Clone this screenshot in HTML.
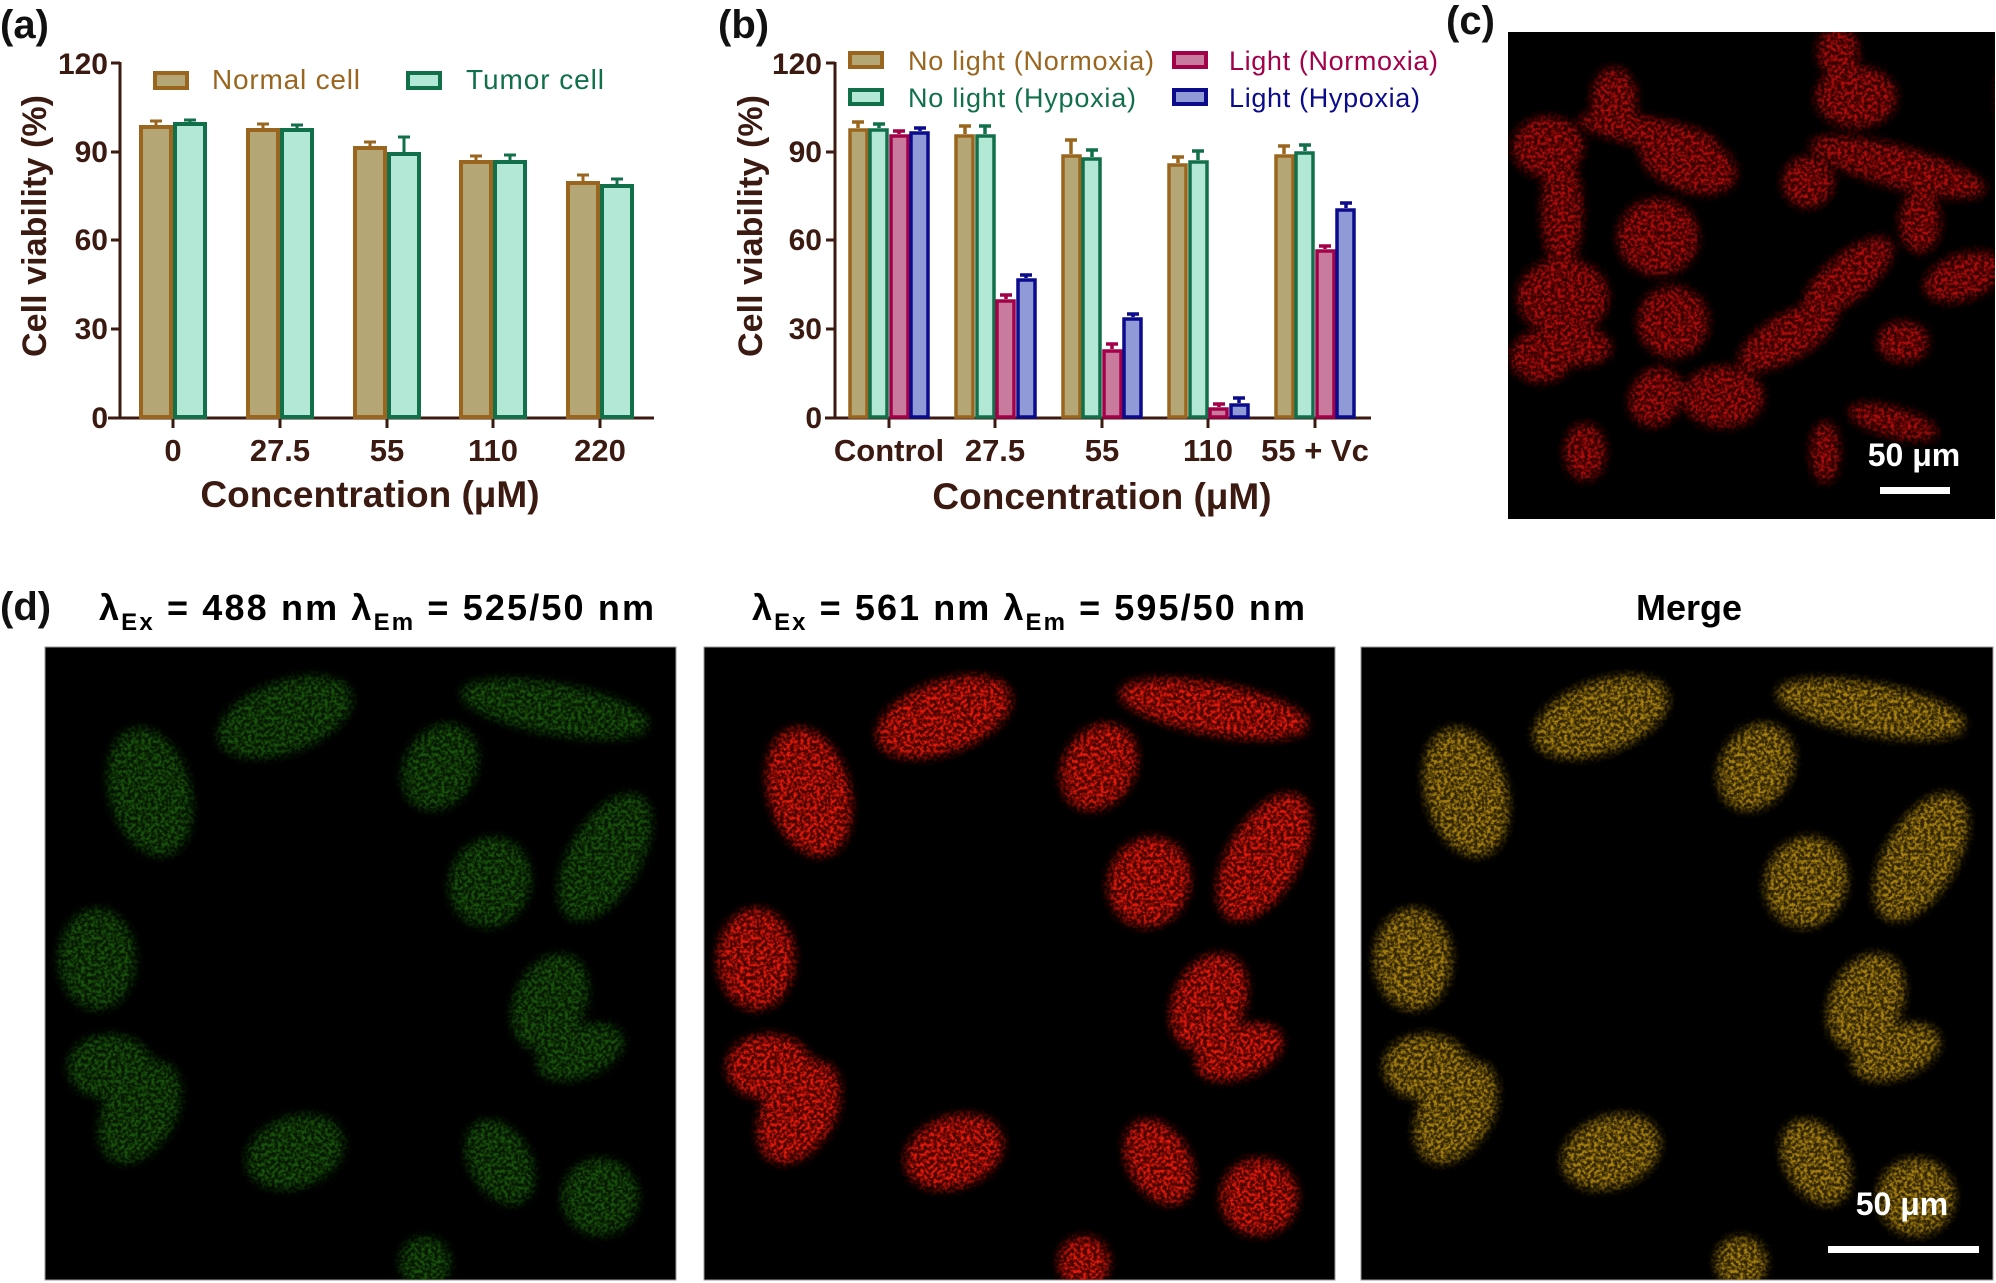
<!DOCTYPE html>
<html><head><meta charset="utf-8"><style>
html,body{margin:0;padding:0;background:#fff}
svg{display:block}
text{font-family:"Liberation Sans Narrow","Liberation Sans",sans-serif}
</style></head><body>
<svg width="1996" height="1283" viewBox="0 0 1996 1283" xmlns="http://www.w3.org/2000/svg">
<defs>
<clipPath id="cc"><rect x="0" y="0" width="487" height="487"/></clipPath>
<clipPath id="cd"><rect x="0" y="0" width="631" height="633"/></clipPath>
<filter id="spk" x="-20%" y="-20%" width="140%" height="140%">
<feGaussianBlur in="SourceGraphic" stdDeviation="5" result="g"/>
<feTurbulence type="fractalNoise" baseFrequency="0.3" numOctaves="2" seed="5" result="n"/>
<feColorMatrix in="n" type="matrix" values="0 0 0 0 0 0 0 0 0 0 0 0 0 0 0 3.2 0 0 0 -1.2" result="a"/>
<feComposite in="g" in2="a" operator="in" result="s"/>
<feComponentTransfer in="g" result="b"><feFuncA type="linear" slope="0.3"/></feComponentTransfer>
<feMerge><feMergeNode in="b"/><feMergeNode in="s"/></feMerge>
</filter>
<g id="cellsD">
<ellipse cx="240" cy="70" rx="70" ry="35" transform="rotate(-20 240 70)"/>
<ellipse cx="510" cy="62" rx="95" ry="25" transform="rotate(10 510 62)"/>
<ellipse cx="105" cy="145" rx="40" ry="65" transform="rotate(-15 105 145)"/>
<ellipse cx="395" cy="120" rx="35" ry="45" transform="rotate(30 395 120)"/>
<ellipse cx="560" cy="210" rx="35" ry="70" transform="rotate(30 560 210)"/>
<ellipse cx="445" cy="235" rx="40" ry="45" transform="rotate(20 445 235)"/>
<ellipse cx="52" cy="312" rx="38" ry="50"/>
<ellipse cx="505" cy="355" rx="35" ry="50" transform="rotate(25 505 355)"/>
<ellipse cx="535" cy="405" rx="45" ry="25" transform="rotate(-20 535 405)"/>
<ellipse cx="65" cy="420" rx="42" ry="32"/>
<ellipse cx="95" cy="465" rx="35" ry="55" transform="rotate(30 95 465)"/>
<ellipse cx="250" cy="505" rx="50" ry="35" transform="rotate(-20 250 505)"/>
<ellipse cx="455" cy="515" rx="30" ry="45" transform="rotate(-30 455 515)"/>
<ellipse cx="555" cy="550" rx="38" ry="38"/>
<ellipse cx="380" cy="615" rx="25" ry="25"/>
</g>
<g id="cellsC">
<ellipse cx="106" cy="68" rx="22" ry="32"/><ellipse cx="40" cy="115" rx="35" ry="30"/>
<ellipse cx="140" cy="100" rx="70" ry="14" transform="rotate(10 140 100)"/>
<ellipse cx="180" cy="130" rx="50" ry="28" transform="rotate(20 180 130)"/>
<ellipse cx="348" cy="65" rx="40" ry="30"/><ellipse cx="330" cy="20" rx="20" ry="25"/>
<ellipse cx="510" cy="65" rx="20" ry="45"/>
<ellipse cx="390" cy="135" rx="90" ry="20" transform="rotate(15 390 135)"/>
<ellipse cx="300" cy="150" rx="25" ry="25"/><ellipse cx="54" cy="180" rx="20" ry="55"/>
<ellipse cx="150" cy="205" rx="40" ry="38"/><ellipse cx="412" cy="190" rx="20" ry="30"/>
<ellipse cx="455" cy="245" rx="40" ry="22" transform="rotate(-20 455 245)"/>
<ellipse cx="55" cy="265" rx="45" ry="38"/><ellipse cx="33" cy="325" rx="30" ry="25"/>
<ellipse cx="73" cy="315" rx="30" ry="18"/><ellipse cx="165" cy="290" rx="35" ry="35"/>
<ellipse cx="340" cy="245" rx="55" ry="22" transform="rotate(-40 340 245)"/>
<ellipse cx="280" cy="305" rx="55" ry="22" transform="rotate(-30 280 305)"/>
<ellipse cx="215" cy="365" rx="40" ry="30"/>
<ellipse cx="148" cy="365" rx="25" ry="30" transform="rotate(30 148 365)"/>
<ellipse cx="77" cy="420" rx="20" ry="28"/>
<ellipse cx="385" cy="390" rx="45" ry="14" transform="rotate(15 385 390)"/>
<ellipse cx="317" cy="420" rx="14" ry="30"/><ellipse cx="395" cy="310" rx="25" ry="20"/>
</g>
</defs>

<!-- Panel (a) -->
<text x="0" y="38" font-size="40" font-weight="bold" font-family="Liberation Sans,sans-serif" fill="#111">(a)</text>
<g fill="#3b1a12" font-weight="bold" font-size="30" text-anchor="end">
<text x="108" y="74">120</text><text x="108" y="162">90</text><text x="108" y="250">60</text><text x="108" y="339">30</text><text x="108" y="428">0</text>
</g>
<g stroke="#3b1a12" stroke-width="3">
<line x1="120" y1="62" x2="120" y2="419"/>
<line x1="111" y1="63" x2="120" y2="63"/><line x1="111" y1="152" x2="120" y2="152"/><line x1="111" y1="240" x2="120" y2="240"/><line x1="111" y1="329" x2="120" y2="329"/>
<line x1="108" y1="418" x2="654" y2="418"/>
<line x1="173" y1="418" x2="173" y2="428"/><line x1="280" y1="418" x2="280" y2="428"/><line x1="387" y1="418" x2="387" y2="428"/><line x1="493" y1="418" x2="493" y2="428"/><line x1="600" y1="418" x2="600" y2="428"/>
</g>
<g fill="#b5a775" stroke="#9a661f" stroke-width="4">
<rect x="141" y="127" width="30" height="290"/><rect x="248" y="130" width="30" height="287"/><rect x="355" y="148" width="30" height="269"/><rect x="461" y="162" width="30" height="255"/><rect x="568" y="183" width="30" height="234"/>
</g>
<g fill="#b4e8d6" stroke="#11704a" stroke-width="4">
<rect x="175" y="124" width="30" height="293"/><rect x="282" y="130" width="30" height="287"/><rect x="389" y="154" width="30" height="263"/><rect x="495" y="162" width="30" height="255"/><rect x="602" y="186" width="30" height="231"/>
</g>
<g stroke-width="3">
<path d="M156 125V121M150 121H162M263 128V124M257 124H269M370 146V142M364 142H376M476 160V156M470 156H482M583 181V175M577 175H589" stroke="#9a661f"/>
<path d="M190 122V120M184 120H196M297 128V125M291 125H303M404 152V137M398 137H410M510 160V155M504 155H516M617 184V179M611 179H623" stroke="#11704a"/>
</g>
<rect x="155" y="73" width="32" height="15" fill="#b5a775" stroke="#9a661f" stroke-width="4"/>
<text x="212" y="89" font-size="28" fill="#9a661f" font-family="Liberation Sans,sans-serif" textLength="148">Normal cell</text>
<rect x="408" y="73" width="32" height="15" fill="#b4e8d6" stroke="#11704a" stroke-width="4"/>
<text x="466" y="89" font-size="28" fill="#11704a" font-family="Liberation Sans,sans-serif" textLength="138">Tumor cell</text>
<g fill="#3b1a12" font-weight="bold" font-size="31" text-anchor="middle">
<text x="173" y="461">0</text><text x="280" y="461">27.5</text><text x="387" y="461">55</text><text x="493" y="461">110</text><text x="600" y="461">220</text>
<text x="370" y="507" font-size="37">Concentration (μM)</text>
</g>
<text transform="translate(46 226) rotate(-90)" text-anchor="middle" font-size="34" font-weight="bold" fill="#3b1a12" font-family="Liberation Sans,sans-serif" textLength="262">Cell viability (%)</text>

<!-- Panel (b) -->
<text x="718" y="38" font-size="40" font-weight="bold" font-family="Liberation Sans,sans-serif" fill="#111">(b)</text>
<g fill="#3b1a12" font-weight="bold" font-size="30" text-anchor="end">
<text x="822" y="74">120</text><text x="822" y="162">90</text><text x="822" y="250">60</text><text x="822" y="339">30</text><text x="822" y="428">0</text>
</g>
<g stroke="#3b1a12" stroke-width="3">
<line x1="835" y1="62" x2="835" y2="419"/>
<line x1="826" y1="63" x2="835" y2="63"/><line x1="826" y1="152" x2="835" y2="152"/><line x1="826" y1="240" x2="835" y2="240"/><line x1="826" y1="329" x2="835" y2="329"/>
<line x1="825" y1="418" x2="1371" y2="418"/>
<line x1="889" y1="418" x2="889" y2="428"/><line x1="995" y1="418" x2="995" y2="428"/><line x1="1102" y1="418" x2="1102" y2="428"/><line x1="1208" y1="418" x2="1208" y2="428"/><line x1="1315" y1="418" x2="1315" y2="428"/>
</g>
<g stroke-width="3.5">
<g fill="#b5a775" stroke="#9a661f">
<rect x="850" y="130" width="17" height="287"/><rect x="956" y="136" width="17" height="281"/><rect x="1063" y="156" width="17" height="261"/><rect x="1169" y="165" width="17" height="252"/><rect x="1276" y="156" width="17" height="261"/>
</g>
<g fill="#b4e8d6" stroke="#11704a">
<rect x="870" y="130" width="17" height="287"/><rect x="977" y="136" width="17" height="281"/><rect x="1083" y="159" width="17" height="258"/><rect x="1190" y="162" width="17" height="255"/><rect x="1296" y="153" width="17" height="264"/>
</g>
<g fill="#c97b9d" stroke="#a3004a">
<rect x="891" y="136" width="17" height="281"/><rect x="997" y="301" width="17" height="116"/><rect x="1104" y="351" width="17" height="66"/><rect x="1210" y="409" width="17" height="8"/><rect x="1317" y="251" width="17" height="166"/>
</g>
<g fill="#8f9ad6" stroke="#0b0b8c">
<rect x="911" y="133" width="17" height="284"/><rect x="1018" y="280" width="17" height="137"/><rect x="1124" y="319" width="17" height="98"/><rect x="1231" y="405" width="17" height="12"/><rect x="1337" y="210" width="17" height="207"/>
</g>
<path d="M858 128V122M852 122H864M965 134V126M959 126H971M1071 154V140M1065 140H1077M1178 163V157M1172 157H1184M1284 154V146M1278 146H1290" stroke="#9a661f" fill="none"/>
<path d="M879 128V124M873 124H885M985 134V126M979 126H991M1092 157V150M1086 150H1098M1198 160V151M1192 151H1204M1305 151V145M1299 145H1311" stroke="#11704a" fill="none"/>
<path d="M899 134V131M893 131H905M1006 299V295M1000 295H1012M1112 349V344M1106 344H1118M1219 407V404M1213 404H1225M1325 249V246M1319 246H1331" stroke="#a3004a" fill="none"/>
<path d="M920 131V128M914 128H926M1026 278V275M1020 275H1032M1133 317V314M1127 314H1139M1239 403V398M1233 398H1245M1346 208V203M1340 203H1352" stroke="#0b0b8c" fill="none"/>
</g>
<rect x="850" y="53" width="32" height="14" fill="#b5a775" stroke="#9a661f" stroke-width="4"/>
<text x="908" y="70" font-size="27" fill="#9a661f" font-family="Liberation Sans,sans-serif" textLength="246">No light (Normoxia)</text>
<rect x="850" y="90" width="32" height="14" fill="#b4e8d6" stroke="#11704a" stroke-width="4"/>
<text x="908" y="107" font-size="27" fill="#11704a" font-family="Liberation Sans,sans-serif" textLength="228">No light (Hypoxia)</text>
<rect x="1174" y="53" width="32" height="14" fill="#c97b9d" stroke="#a3004a" stroke-width="4"/>
<text x="1229" y="70" font-size="27" fill="#a3004a" font-family="Liberation Sans,sans-serif" textLength="209">Light (Normoxia)</text>
<rect x="1174" y="90" width="32" height="14" fill="#8f9ad6" stroke="#0b0b8c" stroke-width="4"/>
<text x="1229" y="107" font-size="27" fill="#0b0b8c" font-family="Liberation Sans,sans-serif" textLength="191">Light (Hypoxia)</text>
<g fill="#3b1a12" font-weight="bold" font-size="31" text-anchor="middle">
<text x="889" y="461">Control</text><text x="995" y="461">27.5</text><text x="1102" y="461">55</text><text x="1208" y="461">110</text><text x="1315" y="461">55 + Vc</text>
<text x="1102" y="509" font-size="37">Concentration (μM)</text>
</g>
<text transform="translate(762 226) rotate(-90)" text-anchor="middle" font-size="34" font-weight="bold" fill="#3b1a12" font-family="Liberation Sans,sans-serif" textLength="262">Cell viability (%)</text>

<!-- Panel (c) -->
<text x="1446" y="34" font-size="40" font-weight="bold" font-family="Liberation Sans,sans-serif" fill="#111">(c)</text>
<rect x="1508" y="32" width="487" height="487" fill="#000"/>
<g transform="translate(1508 32)" clip-path="url(#cc)"><g fill="#d01010" filter="url(#spk)" opacity="0.85"><use href="#cellsC"/></g></g>
<text x="1914" y="466" text-anchor="middle" font-size="32" font-weight="bold" fill="#fff" font-family="Liberation Serif,serif">50 μm</text>
<rect x="1880" y="487" width="70" height="7" fill="#fff"/>

<!-- Panel (d) -->
<text x="0" y="620" font-size="40" font-weight="bold" font-family="Liberation Sans,sans-serif" fill="#111">(d)</text>
<g font-weight="bold" font-size="36" fill="#000">
<text x="99" y="620" textLength="555">λ<tspan font-size="24" dy="10">Ex</tspan><tspan dy="-10"> = 488 nm  λ</tspan><tspan font-size="24" dy="10">Em</tspan><tspan dy="-10"> = 525/50 nm</tspan></text>
<text x="752" y="620" textLength="553">λ<tspan font-size="24" dy="10">Ex</tspan><tspan dy="-10"> = 561 nm  λ</tspan><tspan font-size="24" dy="10">Em</tspan><tspan dy="-10"> = 595/50 nm</tspan></text>
<text x="1689" y="620" text-anchor="middle">Merge</text>
</g>
<rect x="45" y="647" width="631" height="633" fill="#000" stroke="#999" stroke-width="1"/>
<rect x="704" y="647" width="631" height="633" fill="#000" stroke="#999" stroke-width="1"/>
<rect x="1361" y="647" width="632" height="633" fill="#000" stroke="#999" stroke-width="1"/>
<g transform="translate(45 647)" clip-path="url(#cd)"><g fill="#2a8c18" filter="url(#spk)" opacity="0.6"><use href="#cellsD"/></g></g>
<g transform="translate(704 647)" clip-path="url(#cd)"><g fill="#ff1a0a" filter="url(#spk)" opacity="0.9"><use href="#cellsD"/></g></g>
<g transform="translate(1361 647)" clip-path="url(#cd)"><g fill="#c89a18" filter="url(#spk)" opacity="0.85"><use href="#cellsD"/></g></g>
<text x="1902" y="1215" text-anchor="middle" font-size="32" font-weight="bold" fill="#fff" font-family="Liberation Serif,serif">50 μm</text>
<rect x="1828" y="1246" width="151" height="7" fill="#fff"/>
</svg>
</body></html>
